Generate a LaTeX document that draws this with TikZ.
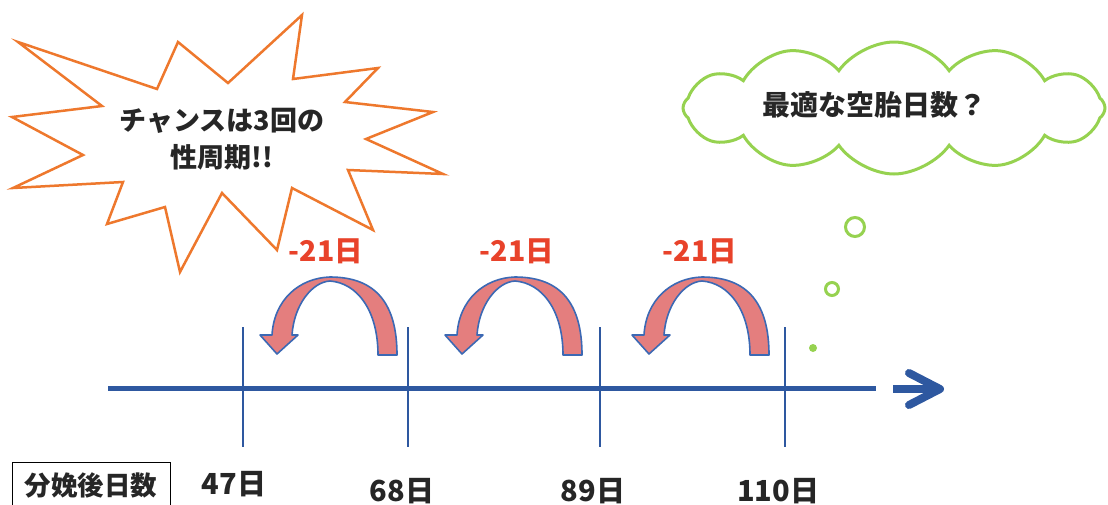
\documentclass[tikz,border=0pt]{standalone}
\usepackage{fontspec}
\newfontfamily\jp{Noto Sans CJK JP}
\usetikzlibrary{shapes.symbols}
\definecolor{axisblue}{RGB}{46,88,160}
\definecolor{arrowblue}{RGB}{60,105,180}
\definecolor{arrowpink}{RGB}{228,126,126}
\definecolor{starorange}{RGB}{238,120,45}
\definecolor{cloudgreen}{RGB}{150,210,80}
\definecolor{labelred}{RGB}{232,66,42}
\tikzset{
  axis/.style={draw=axisblue, line width=5pt},
  tick/.style={draw=axisblue, line width=1.5pt},
  curvearrow/.style={fill=arrowpink, draw=arrowblue, line width=1.6pt, line join=round},
  burst/.style={draw=starorange, line width=2.5pt, fill=white, line join=miter},
  think/.style={draw=cloudgreen, line width=3pt},
  redlabel/.style={text=labelred, font=\jp\bfseries\fontsize{28.5}{32}\selectfont, inner sep=0pt},
  daylabel/.style={text=black!85, font=\jp\bfseries\fontsize{29}{32}\selectfont, inner sep=0pt},
  bodytext/.style={text=black!85, font=\jp\bfseries\fontsize{27}{37}\selectfont, align=center, inner sep=0pt},
}
\begin{document}
\begin{tikzpicture}[x=1pt, y=-1pt]
\useasboundingbox (0,0) rectangle (1108,504);
\clip (0,0) rectangle (1108,504);

% starburst
\draw[burst] (18,42) -- (157,89) -- (178,42) -- (228,83) -- (302,15) -- (293,79)
  -- (378,68) -- (345,102) -- (433,112) -- (366,139) -- (443,174) -- (348,170)
  -- (373,230) -- (292,188) -- (277,250) -- (222,193) -- (180,272) -- (165,207)
  -- (107,224) -- (123,182) -- (13,188) -- (83,155) -- (12,117) -- (102,106) -- cycle;
\node[bodytext] (chance) at (222,139) {チャンスは3回の\\性周期!!};

% cloud
\node[cloud, think, cloud puffs=12, cloud puff arc=110, aspect=3.2,
      minimum width=422pt, minimum height=132pt] (cloud) at (894,108) {};
\node[bodytext, font=\jp\bfseries\fontsize{28}{32}\selectfont] (question) at (874,105) {最適な空胎日数？};
\node[circle, think, inner sep=0pt, minimum size=19pt] (b1) at (855,227) {};
\node[circle, think, inner sep=0pt, minimum size=13pt] (b2) at (832,289) {};
\node[circle, fill=cloudgreen, inner sep=0pt, minimum size=8pt] (b3) at (813,348) {};

% axis
\coordinate (ax0) at (108,388);
\coordinate (ax1) at (876,388);
\draw[axis] (ax0) -- (ax1);
\coordinate (hd0) at (893,389);
\coordinate (hd1) at (932,389);
\coordinate (hdu) at (909,373);
\coordinate (hdt) at (940,389);
\coordinate (hdd) at (909,405);
\draw[draw=axisblue, line width=8pt] (hd0) -- (hd1);
\draw[draw=axisblue, line width=8pt, line cap=round, line join=round] (hdu) -- (hdt) -- (hdd);

% ticks
\foreach \x/\n in {243/t1, 408/t2, 600/t3, 785/t4}{
  \coordinate (\n top) at (\x,327);
  \coordinate (\n bot) at (\x,447);
  \draw[tick] (\n top) -- (\n bot);
}

% curved arrows
\foreach \tx/\lx in {277/326, 462/517, 649/700}{
  \draw[curvearrow] (\tx+120,355)
    .. controls (\tx+120,305) and (\tx+100,277) .. (\tx+53,277)
    .. controls (\tx+22,278) and (\tx-3,300) .. (\tx-5,335)
    -- (\tx-17,335) -- (\tx,354) -- (\tx+21,335) -- (\tx+15,335)
    .. controls (\tx+17,305) and (\tx+35,282) .. (\tx+53,281)
    .. controls (\tx+80,283) and (\tx+101,310) .. (\tx+101,355)
    -- cycle;
  \node[redlabel] at (\lx,251) {-21日};
}

% bottom labels
\node[draw=black, line width=1.3pt, minimum width=158pt, minimum height=56pt, anchor=north west] (boxlab) at (12,462) {};
\node[daylabel, font=\jp\bfseries\fontsize{26.5}{30}\selectfont] (dayshead) at (91,485) {分娩後日数};
\node[daylabel] (d47) at (234,484) {47日};
\node[daylabel] (d68) at (402,491) {68日};
\node[daylabel] (d89) at (593,491) {89日};
\node[daylabel] (d110) at (778,491) {110日};
\end{tikzpicture}
\end{document}
